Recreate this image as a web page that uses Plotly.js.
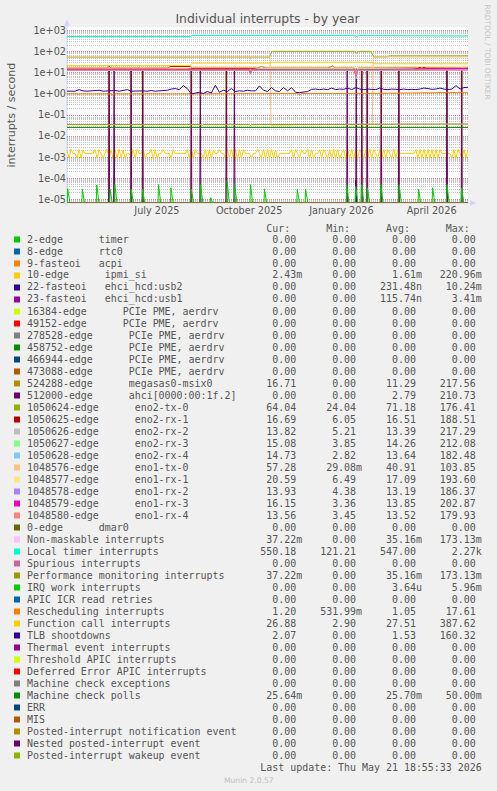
<!DOCTYPE html>
<html>
<head>
<meta charset="utf-8">
<script src="https://cdn.plot.ly/plotly-3.0.1.min.js"></script>
<style>
html,body{margin:0;padding:0;background:#F0F0F0;}
#chart{width:497px;height:791px;}
</style>
</head>
<body>
<div id="chart"></div>
<script>
// ---------------- time frame ----------------
const START_MS = Date.UTC(2025, 3, 16, 18, 55, 33);
const END_MS = Date.UTC(2026, 4, 21, 18, 55, 33);
const DAY_MS = 86400000;

// ---------------- axis ticks ----------------
const yTickVals = [1e3, 1e2, 1e1, 1e0, 1e-1, 1e-2, 1e-3, 1e-4, 1e-5];
const yTickText = ['1e+03', '1e+02', '1e+01', '1e+00', '1e-01', '1e-02', '1e-03', '1e-04', '1e-05'];
const xTickVals = ['2025-07-15 12:00', '2025-10-15 12:00', '2026-01-15 12:00', '2026-04-15 12:00'];
const xTickText = ['July 2025', 'October 2025', 'January 2026', 'April 2026'];

// ---------------- legend table ----------------
const seriesNames = [
  '2-edge      timer', '8-edge      rtc0', '9-fasteoi   acpi', '10-edge      ipmi_si',
  '22-fasteoi   ehci_hcd:usb2', '23-fasteoi   ehci_hcd:usb1',
  '16384-edge      PCIe PME, aerdrv', '49152-edge      PCIe PME, aerdrv',
  '278528-edge      PCIe PME, aerdrv', '458752-edge      PCIe PME, aerdrv',
  '466944-edge      PCIe PME, aerdrv', '473088-edge      PCIe PME, aerdrv',
  '524288-edge      megasas0-msix0', '512000-edge      ahci[0000:00:1f.2]',
  '1050624-edge      eno2-tx-0', '1050625-edge      eno2-rx-1', '1050626-edge      eno2-rx-2',
  '1050627-edge      eno2-rx-3', '1050628-edge      eno2-rx-4', '1048576-edge      eno1-tx-0',
  '1048577-edge      eno1-rx-1', '1048578-edge      eno1-rx-2', '1048579-edge      eno1-rx-3',
  '1048580-edge      eno1-rx-4', '0-edge      dmar0', 'Non-maskable interrupts',
  'Local timer interrupts', 'Spurious interrupts', 'Performance monitoring interrupts',
  'IRQ work interrupts', 'APIC ICR read retries', 'Rescheduling interrupts',
  'Function call interrupts', 'TLB shootdowns', 'Thermal event interrupts',
  'Threshold APIC interrupts', 'Deferred Error APIC interrupts', 'Machine check exceptions',
  'Machine check polls', 'ERR', 'MIS', 'Posted-interrupt notification event',
  'Nested posted-interrupt event', 'Posted-interrupt wakeup event'
];
const curVals = ['0.00','0.00','0.00','2.43m','0.00','0.00','0.00','0.00','0.00','0.00','0.00','0.00',
  '16.71','0.00','64.04','16.69','13.82','15.08','14.73','57.28','20.59','13.93','16.15','13.56',
  '0.00','37.22m','550.18','0.00','37.22m','0.00','0.00','1.20','26.88','2.07','0.00','0.00','0.00',
  '0.00','25.64m','0.00','0.00','0.00','0.00','0.00'];
const minVals = ['0.00','0.00','0.00','0.00','0.00','0.00','0.00','0.00','0.00','0.00','0.00','0.00',
  '0.00','0.00','24.04','6.05','5.21','3.85','2.82','29.08m','6.49','4.38','3.36','3.45',
  '0.00','0.00','121.21','0.00','0.00','0.00','0.00','531.99m','2.90','0.00','0.00','0.00','0.00',
  '0.00','0.00','0.00','0.00','0.00','0.00','0.00'];
const avgVals = ['0.00','0.00','0.00','1.61m','231.48n','115.74n','0.00','0.00','0.00','0.00','0.00','0.00',
  '11.29','2.79','71.18','16.51','13.39','14.26','13.64','40.91','17.09','13.19','13.85','13.52',
  '0.00','35.16m','547.00','0.00','35.16m','3.64u','0.00','1.05','27.51','1.53','0.00','0.00','0.00',
  '0.00','25.70m','0.00','0.00','0.00','0.00','0.00'];
const maxVals = ['0.00','0.00','0.00','220.96m','10.24m','3.41m','0.00','0.00','0.00','0.00','0.00','0.00',
  '217.56','210.73','176.41','188.51','217.29','212.08','182.48','103.85','193.60','186.37','202.87','179.93',
  '0.00','173.13m','2.27k','0.00','173.13m','5.96m','0.00','17.61','387.62','160.32','0.00','0.00','0.00',
  '0.00','50.00m','0.00','0.00','0.00','0.00','0.00'];
const lastUpdate = 'Last update: Thu May 21 18:55:33 2026';

// Munin palette (style)
const palette = ['#00CC00','#0066B3','#FF8000','#FFCC00','#330099','#990099','#CCFF00','#FF0000',
  '#808080','#008F00','#00487D','#B35A00','#B38F00','#6B006B','#8FB300','#B30000','#BEBEBE',
  '#80FF80','#80C9FF','#FFC080','#FFE680','#AA80FF','#EE00CC','#FF8080','#666600','#FFBFFF',
  '#00FFCC','#CC6699','#999900'];

// ---------------- series data (day offset from start, value) ----------------
const zeroDay = [0, 400];
const zeroVal = [0, 0];

// 10-edge ipmi_si, sampled every 2 days
const ipmiStepDays = 2;
const ipmiVal = [
  .0023,.0009,.0024,.0015,.0015,.0009,.0023,.0009,.0022,.0015,
  .0015,.0015,.0015,.0015,.0023,.0009,.0023,.0015,.0009,.0015,
  .0024,.0009,.0023,.0008,.0023,.0009,.0024,.0009,.0022,.0009,
  .0015,.0015,.0009,.0023,.0009,.0023,.0015,.0015,.0023,.0009,
  .0015,.0015,.0024,.0008,.0023,.0009,.0015,.0015,.0023,.0015,
  .0015,.0015,.0009,.0023,.0015,.0015,.0015,.0015,.0015,.0015,
  .0023,.0009,.0024,.0009,.0023,.0015,.0015,.0015,.0009,.0023,
  .0008,.0023,.0009,.0022,.0015,.0015,.0023,.0015,.0015,.0009,
  .0023,.0009,.0024,.0009,.0023,.0008,.0023,.0009,.0023,.0015,
  .0015,.0015,.0009,.0015,.0015,.0023,.0015,.0009,.0023,.0009,
  .0024,.0009,.0023,.0009,.0022,.0009,.0015,.0015,.0015,.0015,
  .0015,.0015,.0023,.0009,.0023,.0015,.0009,.0023,.0015,.0015,
  .0024,.0009,.0023,.0009,.0015,.0015,.0023,.0009,.0023,.0015,
  .0009,.0023,.0009,.0024,.0009,.0023,.0009,.0015,.0023,.0008,
  .0023,.0009,.0024,.0009,.0023,.0009,.0023,.0015,.0009,.0023,
  .0009,.0024,.0009,.0023,.0015,.0009,.0023,.0008,.0023,.0009,
  .0023,.0015,.0009,.0024,.0009,.0023,.0015,.0015,.0015,.0015,
  .0015,.0015,.0015,.0015,.0023,.0009,.0023,.0009,.0024,.0009,
  .0023,.0009,.0023,.0009,.0023,.0009,.0023,.0015,.0015,.0015,
  .0015,.0015,.0009,.0023,.0009,.0023,.0015,.0009,.0023,.0009,
  .00243
];

// 22-fasteoi ehci_hcd:usb2
const usb2Day = [0, 287.5, 288, 289, 400];
const usb2Val = [0, 0, 0.00008, 0, 0];

// 524288 megasas0-msix0
const megasasDay = [0, 41.5,42,42.5, 63.5,64,64.5, 75,75.5,76, 123.5,124,124.5, 158.5,159,159.5,
  293.5,294,294.5, 299,299.5,300, 313,313.5,314, 330.5,331,331.5, 378.5,379,379.5, 393.2,393.7,394.2, 400];
const megasasVal = [16, 16,0,16, 16,0,16, 16,0,16, 16,0,16, 16,0,16,
  16,0,16, 16,0,16, 16,0,16, 16,0,16, 16,0,16, 16,0,16, 16.7];

// 512000 ahci spikes
const ahciSpikeDay = [42, 47, 64, 75.5, 124, 133, 159, 167, 279.5, 288.5, 294, 299.5, 313.5, 331, 379, 393.7];
const ahciSpikeVal = [16, 15, 16, 15, 16, 15, 16, 15, 16, 15, 16, 15, 16, 16, 15, 16];

// 1050624 eno2-tx-0
const eno2tx0Day = [0, 202, 203, 205, 286, 288.5, 291, 303, 306, 320, 321, 400];
const eno2tx0Val = [55, 55, 80, 105, 105, 85, 105, 105, 57, 57, 64, 64];
// 1050625 eno2-rx-1
const eno2rx1Day = [0, 40, 42, 44, 100, 103, 123, 125, 190, 194, 198, 260, 265, 268, 286, 288.5, 290, 350, 354, 358, 400];
const eno2rx1Val = [17, 17, 20, 17, 17, 20, 20, 17, 17, 20, 17, 17, 21, 17, 17, 6.05, 17, 17, 19, 17, 16.7];
// 1050626 eno2-rx-2
const eno2rx2Day = [0, 287, 288.5, 290, 400];
const eno2rx2Val = [13.4, 13.4, 5.2, 13.4, 13.8];
// 1050627 eno2-rx-3
const eno2rx3Day = [0, 185, 190, 286, 288.5, 290, 345, 350, 400];
const eno2rx3Val = [13.5, 13.5, 16, 16, 8, 16, 16, 14, 15.1];
// 1050628 eno2-rx-4
const eno2rx4Day = [0, 287, 288.5, 290, 400];
const eno2rx4Val = [13.0, 13.0, 8, 13.0, 14.7];
// 1048576 eno1-tx-0
const eno1tx0Day = [0, 182, 183, 184, 202.5, 203.5, 225, 226, 304.5, 305.5, 400];
const eno1tx0Val = [56, 56, 45, 56, 56, 0.033, 0.033, 0.036, 0.036, 57, 57];
// 1048577 eno1-rx-1
const eno1rx1Day = [0, 120, 125, 287, 288.5, 290, 400];
const eno1rx1Val = [17, 17, 19, 19, 8, 19, 20.6];
// 1048578 eno1-rx-2
const eno1rx2Day = [0, 182, 183, 184, 400];
const eno1rx2Val = [13.2, 13.2, 9, 13.2, 13.9];
// 1048579 eno1-rx-3
const eno1rx3Day = [0, 182, 183, 184, 287, 288.5, 290, 400];
const eno1rx3Val = [14.5, 14.5, 9.5, 14.5, 14, 7, 14, 16.2];
// 1048580 eno1-rx-4
const eno1rx4Day = [0, 182, 183, 184, 287, 288.5, 290, 400];
const eno1rx4Val = [13.5, 13.5, 9.5, 13.5, 13.5, 7.5, 13.5, 13.6];
// Non-maskable / Performance monitoring interrupts
const pmiDay = [0, 59, 60, 61, 84, 85, 86, 89, 90, 91, 134, 135, 136, 162, 163, 164, 182, 183, 184, 400];
const pmiVal = [0.035, 0.035, 0.038, 0.035, 0.035, 0.038, 0.035, 0.035, 0.038, 0.035,
  0.035, 0.032, 0.035, 0.035, 0.038, 0.035, 0.035, 0.032, 0.035, 0.0372];
// Local timer interrupts
const locDay = [0, 60, 62, 64, 123, 125, 205, 207, 209, 286, 288.5, 291, 330, 400];
const locVal = [530, 530, 510, 530, 530, 590, 590, 620, 590, 590, 540, 590, 580, 560];
// IRQ work interrupts spikes
const iwiSpikeDay = [0.7, 15.3, 29.7, 43, 47.7, 64, 75.3, 91.3, 103.7, 124, 133.3, 143.3, 159.7, 167.3,
  183, 197, 229.7, 238, 279, 288, 294, 299.7, 313, 331.3, 350.7, 364.7, 379, 393.7];
const iwiSpikeVal = [3.2e-5, 3e-5, 4.7e-5, 3e-5, 5e-5, 3e-5, 3e-5, 5e-5, 3.5e-5, 3e-5, 5e-5, 1.2e-5, 7.5e-5, 5e-5,
  5e-5, 3e-5, 3e-5, 3e-5, 5e-5, 4e-5, 5e-5, 3.5e-5, 5e-5, 5e-5, 3e-5, 3.5e-5, 5e-5, 3.5e-5];
// Rescheduling interrupts
const resDay = [0, 44, 45, 46, 132, 133, 134, 230, 232, 234, 300, 330, 400];
const resVal = [1.0, 1.0, 0.85, 1.0, 1.0, 0.85, 1.0, 1.05, 0.9, 1.05, 1.05, 1.1, 1.2];
// Function call interrupts
const calDay = [0, 123, 125, 202, 204, 304, 306, 400];
const calVal = [22, 22, 29, 29, 32, 32, 27, 26.9];
// TLB shootdowns, sampled every 4 days
const tlbStepDays = 4;
const tlbVal = [
  1.35,1.4,1.35,1.6,1.4,1.35,1.4,1.35,1.5,1.35,
  1.4,1.35,1.45,1.35,1.5,1.6,1.35,1.4,1.35,1.4,
  1.35,1.45,1.35,1.4,1.35,1.5,1.7,1.8,1.6,2.5,
  1.8,1.0,1.1,1.2,1.05,1.3,1.1,2.6,1.2,1.5,
  1.3,1.8,1.3,1.4,1.35,1.5,1.4,1.4,2.4,1.5,
  1.3,2.0,1.4,1.3,2.0,1.4,2.0,1.2,1.15,1.2,
  1.3,1.65,1.7,1.6,1.7,1.6,1.9,1.6,1.7,1.65,
  1.9,1.6,2.0,1.7,1.6,1.7,1.65,1.6,1.9,1.65,
  1.6,1.7,1.65,1.6,1.7,1.6,1.65,1.6,1.7,1.9,
  1.8,1.65,1.7,1.9,1.7,1.6,1.7,2.5,1.7,2.0,
  2.07
];
// Machine check polls
const mcpDay = [0, 400];
const mcpVal = [0.0257, 0.02564];

// ---------------- helpers ----------------
const Y_RANGE = [-5.176, 3.176];
const FLOOR = Math.pow(10, Y_RANGE[0]);   // rrdtool draws 0 at the bottom edge on log scale
function dayToDate(d) {
  return new Date(START_MS + d * DAY_MS).toISOString().slice(0, 19).replace('T', ' ');
}
function stepDays(n, step) { const a = []; for (let i = 0; i < n; i++) a.push(i * step); return a; }
function spikes(days, vals, before, after) {
  const d = [0], v = [0];
  days.forEach((s, i) => { d.push(s - before, s, s + after); v.push(0, vals[i], 0); });
  d.push(400); v.push(0);
  return [d, v];
}
const [ahciDay, ahciVal] = spikes(ahciSpikeDay, ahciSpikeVal, 0.5, 0.5);
const [iwiDay, iwiVal] = spikes(iwiSpikeDay, iwiSpikeVal, 0.5, 2.2);

const seriesDays = [];
const seriesVals = [];
for (let i = 0; i < seriesNames.length; i++) { seriesDays.push(zeroDay); seriesVals.push(zeroVal); }
function setSeries(i, d, v) { seriesDays[i] = d; seriesVals[i] = v; }
setSeries(3, stepDays(ipmiVal.length, ipmiStepDays), ipmiVal);
setSeries(4, usb2Day, usb2Val);
setSeries(12, megasasDay, megasasVal);
setSeries(13, ahciDay, ahciVal);
setSeries(14, eno2tx0Day, eno2tx0Val);
setSeries(15, eno2rx1Day, eno2rx1Val);
setSeries(16, eno2rx2Day, eno2rx2Val);
setSeries(17, eno2rx3Day, eno2rx3Val);
setSeries(18, eno2rx4Day, eno2rx4Val);
setSeries(19, eno1tx0Day, eno1tx0Val);
setSeries(20, eno1rx1Day, eno1rx1Val);
setSeries(21, eno1rx2Day, eno1rx2Val);
setSeries(22, eno1rx3Day, eno1rx3Val);
setSeries(23, eno1rx4Day, eno1rx4Val);
setSeries(25, pmiDay, pmiVal);
setSeries(26, locDay, locVal);
setSeries(28, pmiDay, pmiVal);
setSeries(29, iwiDay, iwiVal);
setSeries(31, resDay, resVal);
setSeries(32, calDay, calVal);
setSeries(33, stepDays(tlbVal.length, tlbStepDays), tlbVal);
setSeries(38, mcpDay, mcpVal);

const traces = seriesNames.map((name, i) => ({
  type: 'scatter', mode: 'lines', name: name,
  x: seriesDays[i].map(dayToDate),
  y: seriesVals[i].map(v => (v > 0 ? v : FLOOR)),
  line: { color: palette[i % palette.length], width: 1 },
  hoverinfo: 'skip', showlegend: false
}));

// ---------------- layout ----------------
const W = 497, H = 791;
const M = { l: 67, r: 29, t: 27, b: 588 };
const PW = W - M.l - M.r, PH = H - M.t - M.b;
const px = x => (x - M.l) / PW;
const py = y => 1 - (y - M.t) / PH;

const MONO = 'DejaVu Sans Mono';
const SANS = 'DejaVu Sans';
const TXT = '#555555';
const nb = s => s.replace(/ /g, '\u00A0');
function cell(s) {
  const m = s.match(/^(.*?)([a-zA-Z]?)$/);
  return m[1].padStart(9, ' ') + (m[2] || ' ');
}
const annotations = [];
const shapes = [];
const ROW0 = 239.3, ROWSTEP = 12.0, TEXT_X = 25.3;
annotations.push({ xref: 'paper', yref: 'paper', x: px(TEXT_X), y: py(ROW0 - 11), xanchor: 'left', yanchor: 'middle',
  showarrow: false, text: nb(' '.repeat(40) + 'Cur:' + ' '.repeat(6) + 'Min:' + ' '.repeat(6) + 'Avg:' + ' '.repeat(6) + 'Max:'),
  font: { family: MONO, size: 9.95, color: TXT } });
seriesNames.forEach((name, i) => {
  const yy = ROW0 + i * ROWSTEP;
  const line = name.padEnd(36, ' ') + cell(curVals[i]) + cell(minVals[i]) + cell(avgVals[i]) + cell(maxVals[i]);
  annotations.push({ xref: 'paper', yref: 'paper', x: px(TEXT_X), y: py(yy), xanchor: 'left', yanchor: 'middle',
    showarrow: false, text: nb(line), font: { family: MONO, size: 9.95, color: TXT } });
  shapes.push({ type: 'rect', xref: 'paper', yref: 'paper', x0: px(14), x1: px(20), y0: py(yy + 3.2), y1: py(yy - 2.8),
    fillcolor: palette[i % palette.length], line: { width: 0 } });
});
annotations.push({ xref: 'paper', yref: 'paper', x: px(TEXT_X), y: py(ROW0 + seriesNames.length * ROWSTEP + 0.4),
  xanchor: 'left', yanchor: 'middle', showarrow: false, text: nb(lastUpdate.padStart(76, ' ')),
  font: { family: MONO, size: 9.95, color: TXT } });
annotations.push({ xref: 'paper', yref: 'paper', x: px(248.5), y: py(780), xanchor: 'center', yanchor: 'middle',
  showarrow: false, text: 'Munin 2.0.57', font: { family: SANS, size: 7.6, color: '#BFBFBF' } });
annotations.push({ xref: 'paper', yref: 'paper', x: px(487.5), y: py(52), xanchor: 'center', yanchor: 'middle',
  showarrow: false, textangle: 90, text: 'RRDTOOL / TOBI OETIKER', font: { family: SANS, size: 7.4, color: '#C4C4C4' } });
annotations.push({ xref: 'paper', yref: 'paper', x: px(10.5), y: py(115), xanchor: 'center', yanchor: 'middle',
  showarrow: false, textangle: -90, text: 'interrupts / second', font: { family: SANS, size: 11.1, color: TXT } });

// axis lines and arrows
const AXIS = '#CFD6F8';
shapes.push({ type: 'line', xref: 'paper', yref: 'paper', layer: 'below', x0: px(67), x1: px(67), y0: py(206), y1: py(22), line: { color: AXIS, width: 1 } });
shapes.push({ type: 'line', xref: 'paper', yref: 'paper', layer: 'below', x0: px(63), x1: px(472), y0: py(203), y1: py(203), line: { color: AXIS, width: 1 } });
shapes.push({ type: 'path', xref: 'paper', yref: 'paper',
  path: `M${px(64)},${py(26)} L${px(70)},${py(26)} L${px(67)},${py(19)} Z`, fillcolor: AXIS, line: { width: 0 } });
shapes.push({ type: 'path', xref: 'paper', yref: 'paper',
  path: `M${px(470)},${py(200)} L${px(470)},${py(206)} L${px(476)},${py(203)} Z`, fillcolor: AXIS, line: { width: 0 } });

const MAJOR = 'rgba(226,110,110,0.75)';
const MINOR = 'rgba(150,150,150,0.55)';
const layout = {
  width: W, height: H, margin: M,
  paper_bgcolor: '#F0F0F0', plot_bgcolor: '#FFFFFF',
  title: { text: 'Individual interrupts - by year', x: 0.5, xanchor: 'center', xref: 'paper',
    y: 1 - 19 / H, yref: 'container', yanchor: 'middle', font: { family: SANS, size: 12.4, color: TXT } },
  xaxis: { type: 'date', range: [dayToDate(0), dayToDate(400)], tickmode: 'array', tickvals: xTickVals, ticktext: xTickText,
    showgrid: false, zeroline: false, showline: false, ticks: '', ticklen: 0,
    tickfont: { family: SANS, size: 9.7, color: TXT } },
  xaxis2: { type: 'date', overlaying: 'x', anchor: 'y', side: 'bottom', range: [dayToDate(0), dayToDate(400)],
    tickmode: 'linear', tick0: '2025-05-01', dtick: 'M1', showticklabels: false, ticks: '',
    showgrid: true, gridcolor: MAJOR, griddash: '1px,1px', gridwidth: 1, zeroline: false, showline: false,
    minor: { tickmode: 'linear', tick0: '2025-04-21', dtick: 7 * DAY_MS, showgrid: true, gridcolor: MINOR, griddash: '1px,1px', ticks: '' } },
  yaxis: { type: 'log', range: Y_RANGE, tickmode: 'array', tickvals: yTickVals, ticktext: yTickText,
    showgrid: true, gridcolor: MAJOR, griddash: '1px,1px', zeroline: false, showline: false, ticks: '', ticklen: 0,
    tickfont: { family: SANS, size: 9.7, color: TXT },
    minor: { tickmode: 'linear', dtick: 'D1', showgrid: true, gridcolor: MINOR, griddash: '1px,1px', ticks: '' } },
  annotations: annotations, shapes: shapes, showlegend: false
};

Plotly.newPlot('chart', traces, layout, { staticPlot: true, displayModeBar: false });
</script>
</body>
</html>
